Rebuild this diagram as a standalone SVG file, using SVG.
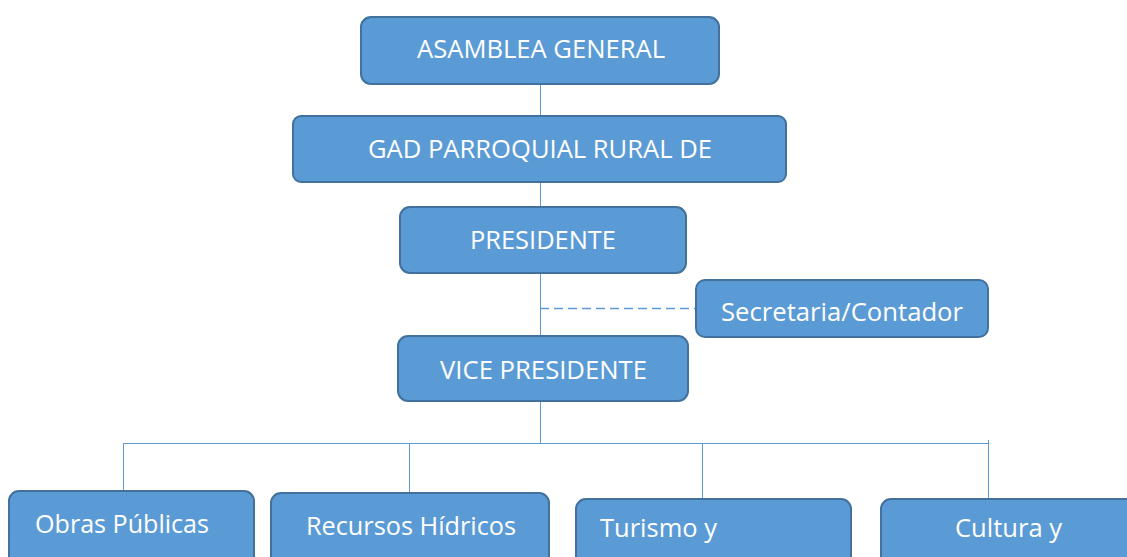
<svg xmlns="http://www.w3.org/2000/svg" width="1127" height="557" viewBox="0 0 1127 557">
<style>
.box{fill:#5B9BD5;stroke:#41719C;stroke-width:2}
.lbl{fill:#FFFFFF;font-family:"Open Sans","Liberation Sans",sans-serif;font-size:26px;text-anchor:middle}
.ln{stroke:#5B9BD5;stroke-width:1;fill:none}
.dash{stroke:#5B9BD5;stroke-width:1.3;fill:none;stroke-dasharray:9 5}
</style>
<rect width="1127" height="557" fill="#FFFFFF"/>
<g id="connectors">
<line class="ln" x1="540.5" y1="84" x2="540.5" y2="116"/>
<line class="ln" x1="540.5" y1="182" x2="540.5" y2="207"/>
<line class="ln" x1="540.5" y1="273" x2="540.5" y2="336"/>
<line class="dash" x1="540" y1="308.5" x2="696" y2="308.5"/>
<line class="ln" x1="540.5" y1="401" x2="540.5" y2="443"/>
<line class="ln" x1="123" y1="443.5" x2="989" y2="443.5"/>
<line class="ln" x1="123.5" y1="443" x2="123.5" y2="491"/>
<line class="ln" x1="409.5" y1="443" x2="409.5" y2="493"/>
<line class="ln" x1="702.5" y1="443" x2="702.5" y2="499"/>
<line class="ln" x1="988.5" y1="440" x2="988.5" y2="499"/>
</g>
<g id="asamblea">
<rect class="box" x="361" y="17" width="358" height="67" rx="10"/>
<text class="lbl" x="541" y="58" textLength="248" lengthAdjust="spacingAndGlyphs">ASAMBLEA GENERAL</text>
</g>
<g id="gad">
<rect class="box" x="293" y="116" width="493" height="66" rx="8"/>
<text class="lbl" x="540" y="158" textLength="344" lengthAdjust="spacingAndGlyphs">GAD PARROQUIAL RURAL DE</text>
</g>
<g id="presidente">
<rect class="box" x="400" y="207" width="286" height="66" rx="10"/>
<text class="lbl" x="543" y="249" textLength="146" lengthAdjust="spacingAndGlyphs">PRESIDENTE</text>
</g>
<g id="secretaria">
<rect class="box" x="696" y="280" width="292" height="57" rx="9"/>
<text class="lbl" x="842" y="321" textLength="242" lengthAdjust="spacingAndGlyphs">Secretaria/Contador</text>
</g>
<g id="vicepresidente">
<rect class="box" x="398" y="336" width="290" height="65" rx="10"/>
<text class="lbl" x="543.5" y="379" textLength="207" lengthAdjust="spacingAndGlyphs">VICE PRESIDENTE</text>
</g>
<g id="obras">
<rect class="box" x="9" y="491" width="245" height="80" rx="10"/>
<text class="lbl" x="122" y="533" textLength="174" lengthAdjust="spacingAndGlyphs">Obras Públicas</text>
</g>
<g id="recursos">
<rect class="box" x="271" y="493" width="278" height="80" rx="10"/>
<text class="lbl" x="411" y="535" textLength="210" lengthAdjust="spacingAndGlyphs">Recursos Hídricos</text>
</g>
<g id="turismo">
<rect class="box" x="576" y="499" width="275" height="80" rx="10"/>
<text class="lbl" x="658.5" y="537" textLength="117" lengthAdjust="spacingAndGlyphs">Turismo y</text>
</g>
<g id="cultura">
<rect class="box" x="881" y="499" width="260" height="80" rx="10"/>
<text class="lbl" x="1008.5" y="537" textLength="107" lengthAdjust="spacingAndGlyphs">Cultura y</text>
</g>
</svg>
